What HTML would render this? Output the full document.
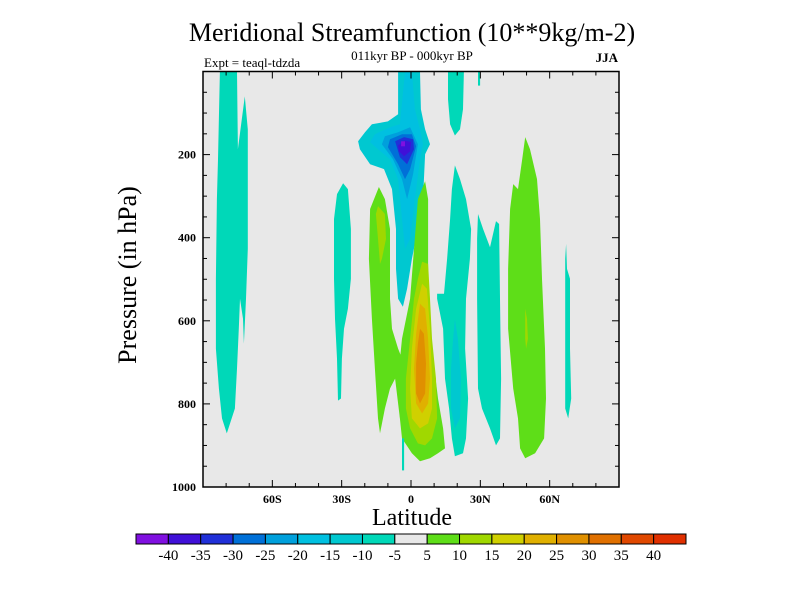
<!DOCTYPE html>
<html><head><meta charset="utf-8"><style>
body{margin:0;background:#fff}
svg{display:block;font-family:"Liberation Serif",serif}
</style></head><body>
<svg id="chart" width="800" height="600" viewBox="0 0 800 600">
<text x="412" y="41" font-size="26" text-anchor="middle">Meridional Streamfunction (10**9kg/m-2)</text>
<text x="412" y="60" font-size="13" text-anchor="middle">011kyr BP - 000kyr BP</text>
<text x="204" y="67" font-size="13">Expt = teaql-tdzda</text>
<text x="618" y="62" font-size="13" text-anchor="end" font-weight="bold">JJA</text>
<rect x="203" y="71.5" width="416" height="415.5" fill="#e8e8e8"/>
<g id="contours"></g>
<rect x="203" y="71.5" width="416" height="415.5" fill="none" stroke="#000" stroke-width="1.5"/>
<g id="axes"></g>
<text transform="translate(136,275) rotate(-90)" font-size="26" text-anchor="middle">Pressure (in hPa)</text>
<text x="412" y="525" font-size="24" text-anchor="middle">Latitude</text>
<g id="colorbar"></g>
</svg>
<script>
const levelColors=["#8010e0","#4010d8","#2030d8","#0070d8","#00a0dc","#00c0e0","#00c8d0","#00d8b8","#e8e8e8","#5ede18","#a0d800","#d0d000","#e0b000","#e09000","#e07000","#e04800","#e03000"];
const levelLabels=["-40","-35","-30","-25","-20","-15","-10","-5","5","10","15","20","25","30","35","40"];
const latTicks=[-60,-30,0,30,60];
const latTickLabels=["60S","30S","0","30N","60N"];
const presTicks=[200,400,600,800,1000];
// contour regions: level index into levelColors, polygon in [lat, hPa]
const contourLevels=[7,7,7,7,7,7,7,6,6,5,4,3,2,1,0,9,9,10,10,11,12,13,9,10,7];
const contourPolys=[
[[-82.7,0],[-75.3,0],[-74.9,187],[-73.2,115],[-71.9,60],[-70.6,139],[-70.6,427],[-71.4,547],[-72.3,655],[-72.7,595],[-74,547],[-74.5,619],[-75.3,715],[-76.2,811],[-79.7,871],[-81.8,835],[-83.1,763],[-84.4,667],[-84.4,499],[-84,307],[-83.5,211]],
[[-29.4,269],[-27.3,283],[-26,379],[-26,499],[-27.3,571],[-29,619],[-29.9,691],[-30.3,787],[-31.6,792],[-32,691],[-32.9,595],[-33.3,499],[-33.3,355],[-32,295]],
[[16,0],[22.9,0],[22.5,91],[21.2,139],[19,154],[16.9,127],[16,67]],
[[29,0],[29.9,0],[29.9,34],[29,34]],
[[29,343],[31.2,379],[34.2,423],[36.8,360],[38.1,367],[38.5,547],[39,739],[38.5,883],[36.8,900],[34.2,859],[30.7,811],[29,763],[28.6,547],[28.6,403]],
[[67.1,415],[67.5,475],[68.8,499],[68.8,667],[69.3,787],[68,835],[66.7,811],[66.7,547],[66.7,451]],
[[19,226],[21.2,259],[23.8,307],[26,379],[25.5,451],[23.8,547],[23.4,667],[24.7,787],[23.8,883],[22.5,919],[19,926],[17.7,883],[16.5,811],[14.7,739],[13.9,619],[11.3,547],[11.3,535],[14.3,535],[15.6,451],[16.9,355],[17.7,283]],
[[19,595],[20.3,643],[21.6,739],[21.2,835],[19,859],[17.3,811],[17.3,715],[18.2,643]],
[[-5.6,0],[3.9,0],[4.3,91],[6.1,139],[8.2,175],[6.1,199],[5.2,307],[3,379],[0.4,451],[-1.7,523],[-3.5,566],[-5.6,547],[-6.5,475],[-6.5,379],[-8.2,283],[-11.7,235],[-17.7,223],[-22.1,187],[-22.9,168],[-19.9,146],[-16.9,127],[-10,120],[-5.6,103]],
[[-15.6,151],[-9.1,134],[-4.8,127],[-2.6,0],[0.4,0],[1.7,91],[3.9,139],[5.2,175],[3.9,211],[1.7,307],[-0.4,403],[-2.6,427],[-3.9,355],[-5.6,259],[-9.1,211],[-14.3,187],[-17.7,170]],
[[-11.3,156],[-5.6,146],[-0.4,134],[3,175],[0.9,247],[-1.7,307],[-3.9,259],[-7.8,211],[-12.6,175]],
[[-9.1,163],[-3.9,151],[0.4,151],[2.2,180],[-0.4,235],[-2.6,259],[-5.6,223],[-10,182]],
[[-6.9,168],[-3,158],[0.9,163],[1.3,187],[-1.7,223],[-4.8,206]],
[[-5.6,178],[-2.6,166],[0,170],[-0.4,192],[-3,204],[-5.2,192]],
[[-4.3,168],[-2.6,168],[-2.6,180],[-4.3,180]],
[[-13.9,278],[-11.3,307],[-9.1,379],[-9.1,547],[-8.2,619],[-5.6,667],[-3.9,691],[-4.8,835],[-6.9,739],[-9.1,763],[-11.3,811],[-13.4,871],[-14.3,835],[-15.6,715],[-16.9,595],[-18.2,451],[-17.7,331]],
[[6.1,264],[7.4,307],[7.4,547],[9.1,667],[11.7,787],[13.9,859],[14.7,907],[11.7,919],[8.2,931],[3.9,938],[0.4,919],[-3.9,883],[-4.8,835],[-5.6,739],[-3.9,643],[-0.4,547],[1.3,427],[3,307]],
[[-14.3,324],[-11.3,343],[-10.8,403],[-12.6,451],[-13.4,463],[-14.3,403],[-15.2,343]],
[[4.8,458],[7.4,463],[8.2,547],[9.1,643],[10.8,739],[11.3,835],[9.1,883],[6.1,900],[3,895],[-0.4,859],[-2.2,811],[-2.2,739],[-0.4,643],[1.3,547],[3,499]],
[[4.8,511],[6.9,523],[8.2,619],[9.1,739],[9.1,811],[7.4,847],[3.9,859],[0.4,835],[-0.4,763],[0.4,667],[2.2,571]],
[[3.9,559],[6.1,571],[7.4,643],[8.2,739],[7.4,799],[4.8,823],[2.2,799],[1.3,715],[2.2,631]],
[[3.9,619],[5.6,631],[6.5,703],[6.1,775],[3.9,799],[2.2,775],[2.2,703],[3,655]],
[[49.4,158],[51.5,187],[54.5,259],[55.8,355],[56.7,499],[58,667],[58.4,787],[57.6,883],[53.7,919],[49.4,931],[47.2,907],[46.3,835],[44.2,763],[42,619],[42,475],[42.9,331],[44.2,271],[46.3,283],[48.1,211]],
[[49.4,571],[50.2,595],[50.6,643],[49.8,667],[49.4,643]],
[[-3.9,883],[-3,883],[-3,960],[-3.9,960]]
];
const NS="http://www.w3.org/2000/svg";
function xs(lat){return 411+lat*(416/180);}
function ys(p){return 71.5+p*0.4155;}
function mk(t,a,parent){const e=document.createElementNS(NS,t);for(const k in a)e.setAttribute(k,a[k]);parent.appendChild(e);return e;}
const cg=document.getElementById('contours');
contourPolys.forEach((poly,i)=>{
  const pts=poly.map(d=>xs(d[0]).toFixed(1)+','+ys(d[1]).toFixed(1)).join(' ');
  const el=mk('polygon',{points:pts,fill:levelColors[contourLevels[i]]},cg);
  
  
});
const ax=document.getElementById('axes');
for(let lat=-80;lat<=80;lat+=10){
  const major=lat%30===0;
  const L=major?7:4;
  mk('line',{x1:xs(lat),x2:xs(lat),y1:487,y2:487-L,stroke:'#000','stroke-width':1},ax);
  mk('line',{x1:xs(lat),x2:xs(lat),y1:71.5,y2:71.5+L,stroke:'#000','stroke-width':1},ax);
}
latTicks.forEach((lat,i)=>{
  const t=mk('text',{x:xs(lat),y:503,'font-size':12,'font-weight':'bold','text-anchor':'middle'},ax);
  t.textContent=latTickLabels[i];
  
  
});
for(let p=50;p<1000;p+=50){
  const major=p%200===0;
  const L=major?7:4;
  mk('line',{x1:203,x2:203+L,y1:ys(p),y2:ys(p),stroke:'#000','stroke-width':1},ax);
  mk('line',{x1:619,x2:619-L,y1:ys(p),y2:ys(p),stroke:'#000','stroke-width':1},ax);
}
presTicks.forEach(p=>{
  const t=mk('text',{x:196,y:ys(p)+4,'font-size':12,'font-weight':'bold','text-anchor':'end'},ax);
  t.textContent=p;
  
  
});
const cb=document.getElementById('colorbar');
const cbX=136,cbW=550,cbY=534,cbH=10,bw=cbW/levelColors.length;
levelColors.forEach((c,i)=>{
  const r=mk('rect',{x:cbX+i*bw,y:cbY,width:bw,height:cbH,fill:c,stroke:'#000','stroke-width':1},cb);
  
  
});
levelLabels.forEach((l,i)=>{
  const t=mk('text',{x:cbX+(i+1)*bw,y:560,'font-size':15,'text-anchor':'middle'},cb);
  t.textContent=l;
  
  
});
</script>
</body></html>
